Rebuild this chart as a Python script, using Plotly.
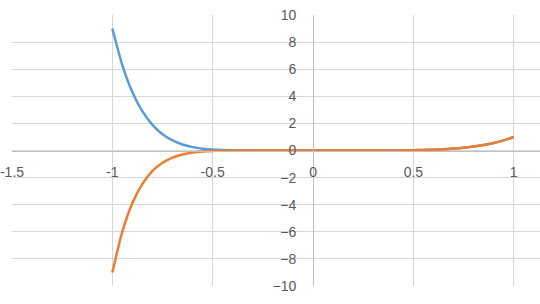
import plotly.graph_objects as go

x_vals = [-1.0, -0.95, -0.9, -0.85, -0.8, -0.75, -0.7, -0.65, -0.6, -0.55, -0.5, -0.45, -0.4, -0.3, -0.2, -0.1,
          0.0, 0.1, 0.2, 0.3, 0.4, 0.5, 0.55, 0.6, 0.65, 0.7, 0.75, 0.8, 0.85, 0.9, 0.95, 1.0]
blue_vals = [9.0, 6.28, 4.3, 2.89, 1.89, 1.2, 0.74, 0.44, 0.25, 0.137, 0.07, 0.033, 0.015, 0.002, 0.0001, 0.0,
             0.0, 0.0, 0.0003, 0.002, 0.006, 0.022, 0.037, 0.06, 0.094, 0.14, 0.2, 0.29, 0.41, 0.56, 0.75, 1.0]
orange_vals = [-9.0, -5.97, -3.87, -2.46, -1.51, -0.9, -0.52, -0.29, -0.15, -0.075, -0.035, -0.015, -0.006, -0.0006, 0.0, 0.0,
               0.0, 0.0, 0.0003, 0.002, 0.006, 0.022, 0.037, 0.06, 0.094, 0.14, 0.2, 0.29, 0.41, 0.56, 0.75, 1.0]

x_ticks = [-1.5, -1, -0.5, 0, 0.5, 1]
x_tick_text = ["-1.5", "-1", "-0.5", "0", "0.5", "1"]
y_ticks = [-10, -8, -6, -4, -2, 0, 2, 4, 6, 8, 10]

x_range = [-1.5, 1.131]
y_range = [-10, 10]

fig = go.Figure()
fig.add_trace(go.Scatter(x=x_vals, y=blue_vals, mode="lines",
                         line=dict(color="#5B9BD5", width=2.5, shape="spline", smoothing=0.6)))
fig.add_trace(go.Scatter(x=x_vals, y=orange_vals, mode="lines",
                         line=dict(color="#ED7D31", width=2.5, shape="spline", smoothing=0.6)))

ypos = (0 - x_range[0]) / (x_range[1] - x_range[0])

fig.update_layout(
    width=540, height=304,
    margin=dict(l=10, r=0, t=15, b=18),
    paper_bgcolor="white", plot_bgcolor="white",
    showlegend=False,
    font=dict(family="Liberation Sans, Arial, sans-serif", size=14, color="#595959"),
    xaxis=dict(range=x_range, tickvals=x_ticks, ticktext=x_tick_text,
               showgrid=True, gridcolor="#d6d6d6", gridwidth=1,
               zeroline=False, showline=True, linecolor="#bfbfbf", linewidth=1,
               anchor="free", position=0.5, ticks="", ticklabelstandoff=9,
               ticklabeloverflow="allow"),
    yaxis=dict(range=y_range, tickvals=y_ticks,
               showgrid=True, gridcolor="#d6d6d6", gridwidth=1,
               zeroline=False, showline=True, linecolor="#bfbfbf", linewidth=1,
               anchor="free", position=ypos, ticks="", ticklabelstandoff=14,
               ticklabeloverflow="allow"),
)

fig.write_html("out.html")
